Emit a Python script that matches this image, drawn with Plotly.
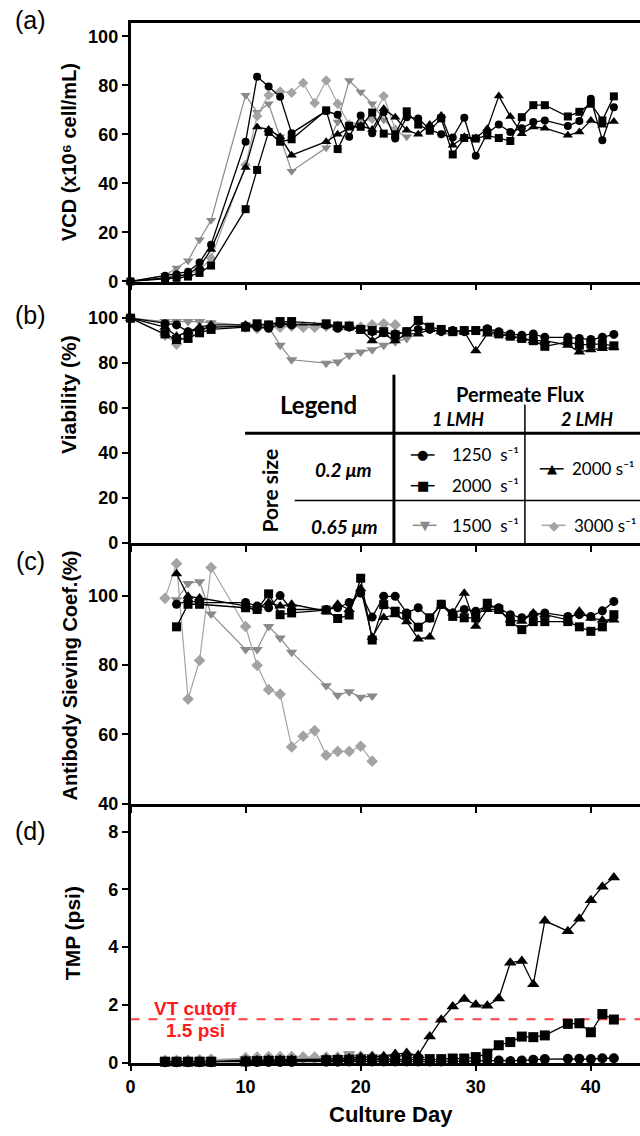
import plotly.graph_objects as go

# ---------------- data ----------------
DAYS_BLACK = [0, 3, 4, 5, 6, 7, 10, 11, 12, 13, 14, 17, 18, 19, 20, 21, 22, 23, 24, 25, 26, 27,
              28, 29, 30, 31, 32, 33, 34, 35, 36, 38, 39, 40, 41, 42]
DAYS_TRI_GREY = [0, 3, 4, 5, 6, 7, 10, 11, 12, 13, 14, 17, 18, 19, 20, 21, 22, 23, 24]
DAYS_DIA_GREY = [0, 3, 4, 5, 6, 7, 10, 11, 12, 13, 14, 15, 16, 17, 18, 19, 20, 21, 22, 23]

# (a) VCD
vcd_circle = [0, 2.3, 3, 4, 7.7, 15, 57, 83.5, 79.5, 75.3, 60.5, 69.5, 68, 59, 67.7, 60.5, 69, 58.3,
              67, 66.5, 62, 60, 58.7, 66.8, 51.3, 60.5, 64, 61, 62.5, 65, 65.7, 63.4, 65.5, 74.5, 57.6, 71.1]
vcd_square = [0, 1, 1.5, 2, 3.5, 6.5, 29.5, 45.5, 61, 57, 58, 69.8, 54, 63.5, 63.1, 68.9, 60.3, 60,
              69.4, 64, 61.5, 66.5, 51.8, 58.5, 58.3, 59.6, 58.5, 57.3, 67, 71.9, 71.9, 67.3, 69.2, 72.5, 65.7, 75.5]
vcd_triangle = [0, 1.5, 2, 3, 6, 13, 46.5, 63, 62, 59, 51.5, 57, 60, 62.5, 63.5, 62, 70.4, 67, 61.7,
                60, 64, 67.7, 55.6, 59, 58.5, 62.3, 75.6, 67.3, 60.3, 63, 62.5, 59.6, 61, 65.7, 63.7, 65.3]
vcd_invtri = [0, 2.5, 5.5, 8.5, 17, 25, 76, 69, 72.5, 59, 45, 54.5, 65, 82, 77.3, 72.5, 66, 61.5, 59]
vcd_diamond = [0, 1.5, 2.5, 3, 4.5, 9.5, 47.5, 67.5, 76, 77.5, 77, 81, 72.8, 82, 72.5, 64, 65, 66.4, 75.6, 62]

# (b) Viability
via_circle = [100, 97.5, 97, 94, 95, 96, 96.5, 96, 95.5, 97.5, 97, 97, 95.5, 96, 95, 94, 93.5, 93, 94,
              95, 95, 94, 94.5, 94, 94.5, 95.3, 94, 93, 92.4, 93, 91.5, 91.5, 91, 90.5, 91.5, 92.8]
via_square = [100, 93, 90.5, 91, 93.5, 95, 96, 97.5, 97, 98.5, 98.5, 97.5, 96.5, 96.5, 95, 94.5, 94,
              92.5, 94, 99, 96, 95, 94, 94.5, 94.5, 94.5, 93, 92, 91, 90, 87.5, 89.5, 88, 88.5, 88.5, 87.7]
via_triangle = [100, 96, 92, 94, 96, 97, 97, 97, 97, 98, 97.5, 97, 96, 96, 95, 90, 93, 90, 93, 93, 95,
                94, 94, 94, 85.5, 93, 93, 92, 91, 90, 90, 88, 85, 86, 86.5, 87]
via_invtri = [100, 98.5, 98.5, 98.5, 98.5, 98, 97, 96.5, 96, 88, 81.5, 80, 80.5, 83.5, 85, 86, 88, 89.5, 91]
via_diamond = [100, 92.5, 88.5, 93, 95, 96, 96, 95.5, 96, 96, 96.5, 96, 96, 96.5, 96.5, 96.5, 96, 97, 97.5, 97]

# (c) Antibody sieving coefficient
DAYS_C_BLACK = [4, 5, 6, 10, 11, 12, 13, 14, 17, 18, 19, 20, 21, 22, 23, 24, 25, 26, 27, 28, 29, 30,
                31, 32, 33, 34, 35, 36, 38, 39, 40, 41, 42]
DAYS_C_TRI_GREY = [4, 5, 6, 7, 10, 11, 12, 13, 14, 17, 18, 19, 20, 21]
DAYS_C_DIA_GREY = [3, 4, 5, 6, 7, 10, 11, 12, 13, 14, 15, 16, 17, 18, 19, 20, 21]
sc_circle = [97.5, 98.5, 98, 98, 97, 96.5, 100, 96, 96, 96.5, 98, 100.7, 93.8, 99.8, 99.8, 95, 96.5,
             93.5, 97.5, 95, 96, 95.5, 97, 96.5, 94.5, 93.6, 94.5, 95, 94, 94.5, 94, 95.6, 98.3]
sc_square = [91, 97.5, 97.5, 96.5, 96, 100.5, 94.5, 95, 95.8, 93.4, 94.4, 105, 87.2, 97.4, 95.5, 94.5,
             90.9, 93.6, 97.5, 94, 93.6, 93.6, 97.8, 96, 92.5, 90.2, 92.5, 92.5, 92.5, 91, 89.7, 91, 94.5]
sc_triangle = [106.3, 99.8, 99.3, 97, 96.5, 98, 97, 97.5, 95.5, 97.5, 96, 102, 88, 93.7, 94.5, 92.5,
               87.5, 88.1, 97, 95, 100.7, 91.2, 96, 96, 93, 92.6, 95, 94.5, 93, 95.5, 93.5, 93, 93]
sc_invtri = [98.8, 103.5, 104, 94.7, 84.5, 84.5, 91.1, 87.8, 83.7, 74, 71.3, 72.3, 70.7, 71.1]
sc_diamond = [99.2, 109.2, 70.2, 81.3, 108.1, 91.1, 79.9, 72.9, 71.6, 56.4, 59.5, 61.1, 54, 55.1,
              55.1, 56.6, 52.3]

# (d) TMP
DAYS_D_BLACK = DAYS_BLACK[1:]
DAYS_D_TRI_GREY = [3, 4, 5, 6, 7, 10, 11, 12, 13, 14, 17, 18, 19, 20, 21]
DAYS_D_DIA_GREY = [3, 4, 5, 6, 7, 10, 11, 12, 13, 14, 15, 16, 17, 18, 19, 20, 21]
tmp_triangle = [0.03, 0.03, 0.03, 0.03, 0.03, 0.08, 0.08, 0.1, 0.1, 0.1, 0.12, 0.13, 0.15, 0.18, 0.2,
                0.22, 0.3, 0.33, 0.25, 0.9, 1.48, 1.94, 2.2, 2.0, 1.97, 2.22, 3.46, 3.52, 2.71, 4.91,
                4.55, 4.98, 5.62, 6.09, 6.41]
tmp_square = [0.03, 0.03, 0.03, 0.03, 0.03, 0.04, 0.05, 0.06, 0.06, 0.06, 0.08, 0.09, 0.1, 0.1, 0.1,
              0.1, 0.1, 0.1, 0.1, 0.12, 0.12, 0.14, 0.14, 0.19, 0.31, 0.6, 0.71, 0.9, 0.88, 0.94,
              1.34, 1.36, 1.05, 1.68, 1.49]
tmp_circle = [0.01, 0.01, 0.01, 0.01, 0.01, 0.02, 0.02, 0.02, 0.02, 0.02, 0.03, 0.03, 0.04, 0.04, 0.04,
              0.04, 0.04, 0.04, 0.04, 0.04, 0.04, 0.05, 0.05, 0.05, 0.07, 0.07, 0.05, 0.07, 0.1, 0.12,
              0.13, 0.13, 0.12, 0.15, 0.15]
tmp_invtri = [0.05, 0.05, 0.05, 0.08, 0.1, 0.12, 0.12, 0.13, 0.13, 0.14, 0.15, 0.17, 0.3, 0.2, 0.2]
tmp_diamond = [0.05, 0.05, 0.06, 0.08, 0.1, 0.15, 0.17, 0.18, 0.18, 0.18, 0.17, 0.17, 0.17, 0.17,
               0.18, 0.2, 0.2]
VT_CUTOFF = 1.5

X_TICKS = [0, 10, 20, 30, 40]

# ---------------- styling ----------------
W, H = 640, 1136
X0 = 126.5
def px(x):
    return x / W
def py(y):
    return 1 - y / H

BLACK = "#000000"
GREY_TRI = "#8a8a8a"
GREY_DIA = "#a3a3a3"
TICKFONT = dict(family="Liberation Sans, Arial, sans-serif", size=18, color="black", weight="bold")

panels = [  # (top px, bottom px, y range, dtick)
    (23, 284, [0, 105.5], 20),
    (284, 548, [0, 116.3], 20),
    (548, 811, [40, 115.1], 20),
    (811, 1072, [0, 8.96], 2),
]

fig = go.Figure()

def add_series(k, xs, ys, symbol, color, size, lw):
    suffix = "" if k == 1 else str(k)
    fig.add_trace(go.Scatter(
        x=xs, y=ys, mode="lines+markers", xaxis="x" + suffix, yaxis="y" + suffix,
        line=dict(color=color, width=lw),
        marker=dict(symbol=symbol, color=color, size=size, line=dict(width=0)),
        cliponaxis=False, showlegend=False, hoverinfo="skip"))

panel_data = [
    (1, [(DAYS_TRI_GREY, vcd_invtri), (DAYS_DIA_GREY, vcd_diamond),
         (DAYS_BLACK, vcd_triangle), (DAYS_BLACK, vcd_square), (DAYS_BLACK, vcd_circle)], 8),
    (2, [(DAYS_TRI_GREY, via_invtri), (DAYS_DIA_GREY, via_diamond),
         (DAYS_BLACK, via_triangle), (DAYS_BLACK, via_square), (DAYS_BLACK, via_circle)], 9),
    (3, [(DAYS_C_TRI_GREY, sc_invtri), (DAYS_C_DIA_GREY, sc_diamond),
         (DAYS_C_BLACK, sc_triangle), (DAYS_C_BLACK, sc_square), (DAYS_C_BLACK, sc_circle)], 9),
    (4, [(DAYS_D_TRI_GREY, tmp_invtri), (DAYS_D_DIA_GREY, tmp_diamond),
         (DAYS_D_BLACK, tmp_triangle), (DAYS_D_BLACK, tmp_square), (DAYS_D_BLACK, tmp_circle)], 10),
]
styles = [("triangle-down", GREY_TRI, 1.2), ("diamond", GREY_DIA, 1.2),
          ("triangle-up", BLACK, 1.3), ("square", BLACK, 1.3), ("circle", BLACK, 1.3)]

for k, series, msize in panel_data:
    for (xs, ys), (sym, col, lw) in zip(series, styles):
        sz = msize + (1 if sym.startswith("triangle") else 0)
        add_series(k, xs, ys, sym, col, sz, lw)

layout = dict(width=W, height=H, margin=dict(l=0, r=0, t=0, b=0, pad=0),
              plot_bgcolor="white", paper_bgcolor="white", showlegend=False)

for i, (top, bot, yr, dt) in enumerate(panels, start=1):
    suffix = "" if i == 1 else str(i)
    layout["xaxis" + suffix] = dict(
        domain=[px(X0), 1], range=[0, 44.27], anchor="y" + suffix,
        showline=True, linewidth=2.5, linecolor="black", mirror=(i == 1),
        ticks="outside", ticklen=6, tickwidth=2, tickcolor="black",
        tickvals=X_TICKS, showticklabels=(i == 4), tickfont=TICKFONT,
        showgrid=False, zeroline=False)
    layout["yaxis" + suffix] = dict(
        domain=[py(bot), py(top)], range=yr, anchor="x" + suffix,
        showline=True, linewidth=2.5, linecolor="black",
        ticks="outside", ticklen=6, tickwidth=2, tickcolor="black",
        tick0=yr[0] if i == 3 else 0, dtick=dt, tickfont=TICKFONT,
        showgrid=False, zeroline=False)

fig.update_layout(**layout)

# ---------------- annotations ----------------
ann = []
def text(x, y, s, size, bold=False, italic=False, family="Liberation Sans, Arial, sans-serif",
         color="black", angle=0, xanchor="center"):
    ann.append(dict(x=px(x), y=py(y), xref="paper", yref="paper", text=s, showarrow=False,
                    xanchor=xanchor, yanchor="middle", textangle=angle,
                    font=dict(family=family, size=size, color=color,
                              weight="bold" if bold else "normal",
                              style="italic" if italic else "normal")))

for lbl, yy in [("(a)", 20), ("(b)", 318), ("(c)", 566), ("(d)", 838)]:
    text(26, yy, lbl, 25)

text(64, 154, "VCD (x10⁶ cell/mL)", 20, bold=True, angle=-90)
text(64, 398, "Viability (%)", 21, bold=True, angle=-90)
text(66, 681, "Antibody Sieving Coef.(%)", 20, bold=True, angle=-90)
text(68, 941, "TMP (psi)", 21, bold=True, angle=-90)
text(389, 1124, "Culture Day", 22, bold=True)

# VT cutoff
text(192, 1017, "VT cutoff", 19, bold=True, color="#ff1a1a")
text(192, 1040, "1.5 psi", 19, bold=True, color="#ff1a1a")

# Legend table
LF = "Lato, Noto Sans, sans-serif"
text(316, 408, "Legend", 24, bold=True, family=LF)
text(520, 397, "Permeate Flux", 20, bold=True, family=LF)
text(457, 423, "1 LMH", 18, bold=True, italic=True, family=LF)
text(587, 423, "2 LMH", 18, bold=True, italic=True, family=LF)
text(267, 495, "Pore size", 21, bold=True, family=LF, angle=-90)
text(341, 474, "0.2 μm", 19, bold=True, italic=True, family=LF)
text(342, 531, "0.65 μm", 19, bold=True, italic=True, family=LF)

entries = [  # glyph, glyph color, key x center, y, label, label x
    ("●", BLACK, 421, 459, "1250  s⁻¹", 448),
    ("■", BLACK, 421, 490, "2000  s⁻¹", 448),
    ("▲", BLACK, 551, 473, "2000 s⁻¹", 569),
    ("▼", GREY_TRI, 423, 530, "1500  s⁻¹", 448),
    ("◆", GREY_DIA, 553, 530, "3000 s⁻¹", 571),
]
shapes = []
for g, col, kx, ky, lab, lx in entries:
    shapes.append(dict(type="line", xref="paper", yref="paper", x0=px(kx - 12), x1=px(kx + 12),
                       y0=py(ky), y1=py(ky), line=dict(color=col, width=1.5)))
    text(kx, ky, g, 13, family="DejaVu Sans", color=col)
    text(lx, ky, lab, 17, family=LF, xanchor="left")

# table lines
def pline(x0, y0, x1, y1, w, color="black"):
    shapes.append(dict(type="line", xref="paper", yref="paper", x0=px(x0), x1=px(x1),
                       y0=py(y0), y1=py(y1), line=dict(color=color, width=w)))
pline(392, 378, 392, 549, 3)
pline(524, 408, 524, 549, 1.5)
pline(242, 437, 640, 437, 3)
pline(292, 505, 640, 505, 1.5)

# VT cutoff dashed line
shapes.append(dict(type="line", xref="x4 domain", yref="y4", x0=0, x1=1, y0=VT_CUTOFF, y1=VT_CUTOFF,
                   line=dict(color="rgba(255,30,30,0.85)", width=2, dash="dash"), layer="below"))

fig.update_layout(annotations=ann, shapes=shapes)
fig.write_html("out.html", config={"displayModeBar": False, "responsive": False},
               post_script="document.documentElement.style.margin='0';"
                           "document.body.style.margin='0';document.body.style.padding='0';"
                           "document.body.style.overflow='hidden';")
